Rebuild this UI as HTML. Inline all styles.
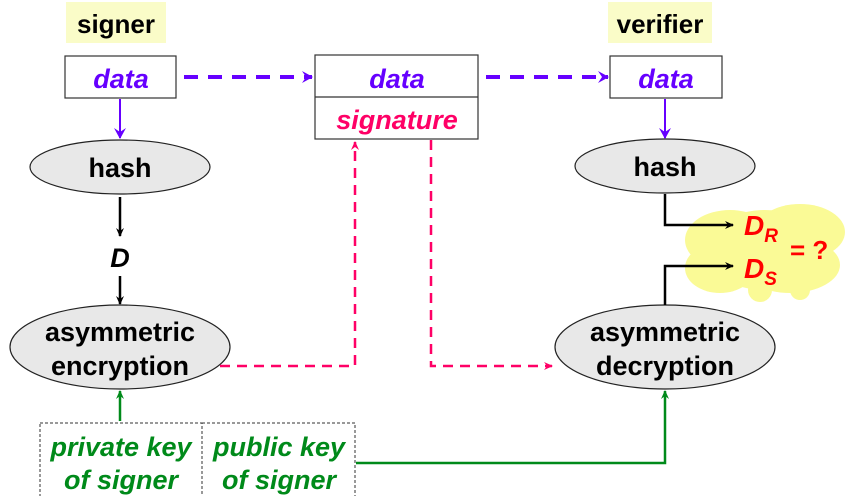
<!DOCTYPE html>
<html><head><style>body{margin:0;background:#fff}svg{display:block}</style></head><body>
<svg width="848" height="496" viewBox="0 0 848 496" xmlns="http://www.w3.org/2000/svg" font-family="Liberation Sans, sans-serif" font-weight="bold">
<defs>
<marker id="ab" markerWidth="10" markerHeight="10" refX="8" refY="5" orient="auto" markerUnits="userSpaceOnUse"><path d="M0,1 L9,5 L0,9 L3,5z" fill="#000"/></marker>
<marker id="ap" markerWidth="12" markerHeight="12" refX="10" refY="6" orient="auto" markerUnits="userSpaceOnUse"><path d="M0,0 L11,6 L0,12 L4,6z" fill="#6600ff"/></marker>
<marker id="ak" markerWidth="10" markerHeight="10" refX="8" refY="5" orient="auto" markerUnits="userSpaceOnUse"><path d="M0,1 L9,5 L0,9 L3,5z" fill="#ff0066"/></marker>
<marker id="ag" markerWidth="10" markerHeight="10" refX="8" refY="5" orient="auto" markerUnits="userSpaceOnUse"><path d="M0,1 L9,5 L0,9 L3,5z" fill="#008a1a"/></marker>
</defs>
<rect x="66" y="2" width="100" height="41" fill="#fafcc8"/>
<text x="116" y="33" font-size="26" text-anchor="middle">signer</text>
<rect x="608" y="2" width="104" height="41" fill="#fafcc8"/>
<text x="660" y="33" font-size="26" text-anchor="middle">verifier</text>
<g fill="#fafa96">
<ellipse cx="730" cy="240" rx="45" ry="30"/><ellipse cx="800" cy="232" rx="45" ry="28"/>
<ellipse cx="720" cy="268" rx="35" ry="25"/><ellipse cx="790" cy="265" rx="50" ry="28"/>
<ellipse cx="765" cy="250" rx="60" ry="40"/><circle cx="800" cy="290" r="10"/><circle cx="760" cy="290" r="12"/>
</g>
<g font-style="italic" fill="#6600ff" font-size="27" text-anchor="middle">
<rect x="65" y="56" width="111" height="42" fill="#fff" stroke="#333" stroke-width="1.2"/>
<text x="121" y="88">data</text>
<rect x="315" y="55" width="163" height="84" fill="#fff" stroke="#333" stroke-width="1.2"/>
<line x1="315" y1="97" x2="478" y2="97" stroke="#333" stroke-width="1.2"/>
<text x="397" y="88">data</text>
<text x="397" y="129" fill="#ff0066">signature</text>
<rect x="610" y="56" width="112" height="42" fill="#fff" stroke="#333" stroke-width="1.2"/>
<text x="666" y="88">data</text>
</g>
<g stroke="#6600ff" stroke-width="4" stroke-dasharray="14,10" fill="none">
<line x1="184" y1="77" x2="312" y2="77" marker-end="url(#ap)"/>
<line x1="486" y1="77" x2="608" y2="77" marker-end="url(#ap)"/>
</g>
<g stroke="#6600ff" stroke-width="2"><line x1="120" y1="99" x2="120" y2="138" marker-end="url(#ap)"/><line x1="665" y1="99" x2="665" y2="138" marker-end="url(#ap)"/></g>
<g fill="#e8e8e8" stroke="#222" stroke-width="1.2">
<ellipse cx="120" cy="167" rx="90" ry="27"/><ellipse cx="665" cy="166" rx="90" ry="27"/>
<ellipse cx="120" cy="347" rx="110" ry="42"/><ellipse cx="665" cy="347" rx="110" ry="42"/>
</g>
<g font-size="27" text-anchor="middle">
<text x="120" y="177">hash</text><text x="665" y="176">hash</text>
<text x="120" y="341">asymmetric</text><text x="120" y="375">encryption</text>
<text x="665" y="341">asymmetric</text><text x="665" y="375">decryption</text>
<text x="120" y="267" font-style="italic">D</text>
</g>
<g stroke="#000" stroke-width="2.5" fill="none">
<line x1="120" y1="197" x2="120" y2="236" marker-end="url(#ab)"/>
<line x1="120" y1="276" x2="120" y2="304" marker-end="url(#ab)"/>
<polyline points="665,194 665,225 733,225" marker-end="url(#ab)"/>
<polyline points="665,305 665,266 733,266" marker-end="url(#ab)"/>
</g>
<g fill="#ff0000" font-style="italic" font-size="28">
<text x="744" y="235">D<tspan font-size="19" dy="7">R</tspan></text>
<text x="744" y="278">D<tspan font-size="19" dy="7">S</tspan></text>
<text x="790" y="259" font-style="normal" font-size="26">= ?</text>
</g>
<g stroke="#ff0066" stroke-width="2.5" stroke-dasharray="10,7" fill="none">
<polyline points="220,366 355,366 355,142" marker-end="url(#ak)"/>
<polyline points="431,140 431,366 552,366" marker-end="url(#ak)"/>
</g>
<g stroke="#333" stroke-width="1" stroke-dasharray="3,2" fill="none">
<rect x="40" y="423" width="162" height="80"/><rect x="202" y="423" width="153" height="80"/>
</g>
<g fill="#008a1a" font-style="italic" font-size="27" text-anchor="middle">
<text x="121" y="456">private key</text><text x="121" y="489">of signer</text>
<text x="279" y="456">public key</text><text x="279" y="489">of signer</text>
</g>
<g stroke="#008a1a" stroke-width="2.5" fill="none">
<line x1="120" y1="421" x2="120" y2="391" marker-end="url(#ag)"/>
<polyline points="356,463 665,463 665,391" marker-end="url(#ag)"/>
</g>
</svg>
</body></html>
